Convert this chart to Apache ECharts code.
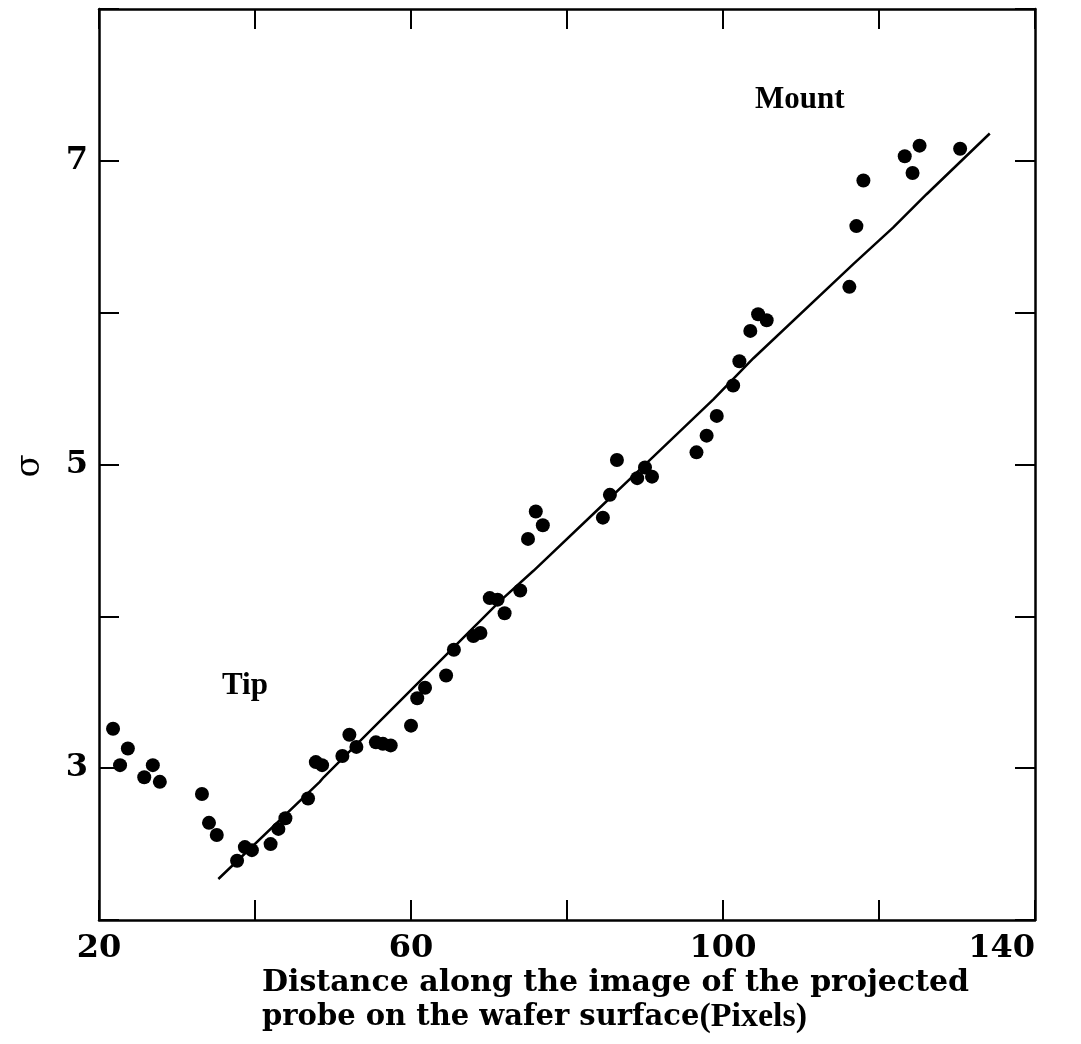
<!DOCTYPE html>
<html>
<head>
<meta charset="utf-8">
<title>Sigma vs distance along the probe image</title>
<script src="https://cdn.jsdelivr.net/npm/echarts@6/dist/echarts.min.js"></script>
<style>
  html, body { margin: 0; padding: 0; background: #fff; }
  #chart { width: 1081px; height: 1044px; }
</style>
</head>
<body>
<div id="chart"></div>
<script>
// Measured sigma at each position along the projected probe image (pixels)
const distance = [
  21.8, 22.7, 23.7, 25.8, 26.9, 27.8, 33.2, 34.1, 35.1, 37.7,
  38.7, 39.6, 42.0, 43.0, 43.9, 46.8, 47.8, 48.6, 51.2, 52.1,
  53.0, 55.5, 56.4, 57.4, 60.0, 60.8, 61.8, 64.5, 65.5, 68.0,
  68.9, 70.1, 71.1, 72.0, 74.0, 75.0, 76.0, 76.9, 84.6, 85.5,
  86.4, 89.0, 90.0, 90.9, 96.6, 97.9, 99.2, 101.3, 102.1, 103.5,
  104.5, 105.6, 116.2, 117.1, 118.0, 123.3, 124.3, 125.2, 130.4
];
const sigma = [
  3.26, 3.02, 3.13, 2.94, 3.02, 2.91, 2.83, 2.64, 2.56, 2.39,
  2.48, 2.46, 2.50, 2.60, 2.67, 2.80, 3.04, 3.02, 3.08, 3.22,
  3.14, 3.17, 3.16, 3.15, 3.28, 3.46, 3.53, 3.61, 3.78, 3.87,
  3.89, 4.12, 4.11, 4.02, 4.17, 4.51, 4.69, 4.60, 4.65, 4.80,
  5.03, 4.91, 4.98, 4.92, 5.08, 5.19, 5.32, 5.52, 5.68, 5.88,
  5.99, 5.95, 6.17, 6.57, 6.87, 7.03, 6.92, 7.10, 7.08
];

// Fitted trend through the probe section
const fitDistance = [35.3, 48.3, 48.8, 71.4, 75.7, 84.3, 89.4, 98.8, 103.9, 116.7, 121.8, 126.1, 134.2];
const fitSigma    = [2.27, 2.91, 2.94, 4.10, 4.30, 4.72, 4.97, 5.43, 5.70, 6.32, 6.56, 6.78, 7.18];

// Axis ranges and labelled ticks
const xRange = { min: 20, max: 140, step: 20 };
const yRange = { min: 2, max: 8, step: 1 };
const xTickLabels = [20, 60, 100, 140];
const yTickLabels = [3, 5, 7];

const xTitleLine1 = 'Distance along the image of the projected';
const xTitleLine2a = 'probe on the wafer surface';
const xTitleLine2b = '(Pixels)';

const points = distance.map((d, i) => [d, sigma[i]]);
const fitLine = fitDistance.map((d, i) => [d, fitSigma[i]]);

const INK = '#000';
const tickFont = { fontFamily: 'DejaVu Serif', fontSize: 32, fontWeight: 'bold', color: INK };

function frameAxis(range, position, extra) {
  return Object.assign({
    type: 'value',
    position: position,
    min: range.min,
    max: range.max,
    interval: range.step,
    splitLine: { show: false },
    axisLine: { show: true, onZero: false, lineStyle: { color: INK, width: 2.5 } },
    axisTick: { show: true, inside: true, length: 20, lineStyle: { color: INK, width: 2 } },
    axisLabel: { show: false }
  }, extra || {});
}

const chart = echarts.init(document.getElementById('chart'), null, { renderer: 'canvas' });

chart.setOption({
  backgroundColor: '#fff',
  animation: false,
  grid: { left: 99, right: 46, top: 9, bottom: 124, containLabel: false, outerBoundsMode: 'none' },
  xAxis: [
    frameAxis(xRange, 'bottom', {
      axisLabel: Object.assign({
        show: true,
        margin: 13,
        alignMaxLabel: 'right',
        formatter: v => (xTickLabels.indexOf(v) >= 0 ? String(v) : '')
      }, tickFont)
    }),
    frameAxis(xRange, 'top')
  ],
  yAxis: [
    frameAxis(yRange, 'left', {
      axisLabel: Object.assign({
        show: true,
        margin: 11,
        formatter: v => (yTickLabels.indexOf(v) >= 0 ? String(v) : '')
      }, tickFont)
    }),
    frameAxis(yRange, 'right')
  ],
  series: [
    {
      name: 'fit',
      type: 'line',
      xAxisIndex: 0,
      yAxisIndex: 0,
      data: fitLine,
      showSymbol: false,
      symbol: 'none',
      smooth: false,
      lineStyle: { color: INK, width: 2.5 },
      z: 2
    },
    {
      name: 'sigma',
      type: 'scatter',
      xAxisIndex: 0,
      yAxisIndex: 0,
      data: points,
      symbol: 'circle',
      symbolSize: 14,
      itemStyle: { color: INK, opacity: 1 },
      z: 3
    }
  ],
  graphic: [
    {
      type: 'text',
      x: 30, y: 466,
      rotation: Math.PI / 2,
      style: {
        text: 'σ',
        font: '34px "DejaVu Serif"',
        fill: INK,
        align: 'center',
        verticalAlign: 'middle'
      }
    },
    {
      type: 'text',
      x: 222, y: 686,
      style: {
        text: 'Tip',
        font: 'bold 31px "Liberation Serif"',
        fill: INK,
        align: 'left',
        verticalAlign: 'middle'
      }
    },
    {
      type: 'text',
      x: 755, y: 100,
      style: {
        text: 'Mount',
        font: 'bold 31px "Liberation Serif"',
        fill: INK,
        align: 'left',
        verticalAlign: 'middle'
      }
    },
    {
      type: 'text',
      x: 262, y: 983,
      style: {
        text: xTitleLine1,
        font: 'bold 30px "DejaVu Serif"',
        fill: INK,
        align: 'left',
        verticalAlign: 'middle'
      }
    },
    {
      type: 'text',
      x: 262, y: 1017,
      style: {
        text: '{a|' + xTitleLine2a + '}{b|' + xTitleLine2b + '}',
        fill: INK,
        align: 'left',
        verticalAlign: 'middle',
        rich: {
          a: { font: 'bold 29px "DejaVu Serif"', fill: INK },
          b: { font: 'bold 34px "Liberation Serif"', fill: INK }
        }
      }
    }
  ]
});
</script>
</body>
</html>
